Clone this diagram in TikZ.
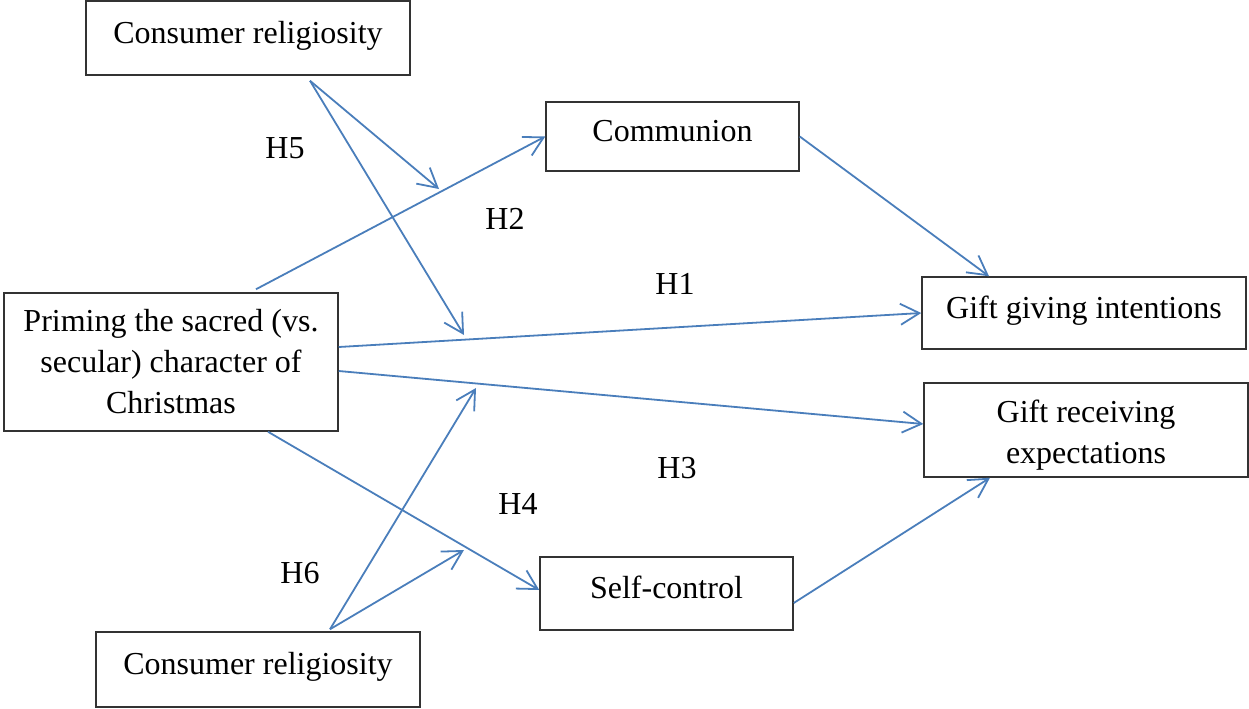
\documentclass[tikz,border=0pt]{standalone}
\usepackage{fontspec}
\setmainfont{Liberation Serif}
\usetikzlibrary{arrows.meta}
\definecolor{arrowblue}{RGB}{74,126,187}
\begin{document}
\begin{tikzpicture}[x=0.5pt,y=-0.5pt,
  box/.style={draw=black!80,line width=0.75pt,rectangle,inner sep=0pt,
    font=\fontsize{16}{20.5}\selectfont,align=center,text height=11pt,text depth=6pt},
  mbox/.style={draw=black!80,line width=0.75pt,rectangle,inner sep=0pt,
    font=\fontsize{16}{20.5}\selectfont,align=center},
  hyp/.style={font=\fontsize{16}{20}\selectfont,inner sep=0pt},
  link/.style={draw=arrowblue,line width=0.9pt,-{Straight Barb[length=9.5pt,width=10.5pt,line width=0.9pt]}}
]
\useasboundingbox (0,0) rectangle (1249,708);
\node[box,minimum width=162pt,minimum height=37pt] (crt) at (248,38) {Consumer religiosity};
\node[box,minimum width=126.5pt,minimum height=34.5pt] (com) at (672.5,136.5) {Communion};
\node[mbox,minimum width=167pt,minimum height=69pt] (pri) at (171,362) {Priming the sacred (vs.\\secular) character of\\Christmas};
\node[box,minimum width=162pt,minimum height=36pt] (ggi) at (1084,313) {Gift giving intentions};
\node[mbox,minimum width=162pt,minimum height=47pt,text height=34pt,text depth=1pt] (gre) at (1086,430) {Gift receiving\\expectations};
\node[box,minimum width=126.5pt,minimum height=36.5pt] (sc) at (666.5,593.5) {Self-control};
\node[box,minimum width=162pt,minimum height=37.5pt] (crb) at (258,669.5) {Consumer religiosity};

\node[hyp] (h5) at (285,148) {H5};
\node[hyp] (h2) at (505,219) {H2};
\node[hyp] (h1) at (675,284) {H1};
\node[hyp] (h3) at (677,468) {H3};
\node[hyp] (h4) at (518,504) {H4};
\node[hyp] (h6) at (300,573) {H6};

\coordinate (m5) at ([xshift=31pt,yshift=-2.5pt]crt.south);
\coordinate (t5a) at (439,189);
\coordinate (t5b) at (464,335);
\coordinate (m6) at ([xshift=36pt,yshift=1pt]crb.north);
\coordinate (t6a) at (476,388);
\coordinate (t6b) at (464,550);

\draw[link] ([xshift=42.5pt,yshift=1.5pt]pri.north) -- (com.west);
\draw[link] (com.east) -- ([xshift=-47.5pt]ggi.north);
\draw[link] ([yshift=7.5pt]pri.east) -- (ggi.west);
\draw[link] ([yshift=-4.5pt]pri.east) -- ([yshift=3pt]gre.west);
\draw[link] ([xshift=48.5pt]pri.south) -- ([yshift=1.75pt]sc.west);
\draw[link] ([yshift=-4.75pt]sc.east) -- ([xshift=-48pt]gre.south);
\draw[link] (m5) -- (t5a);
\draw[link] (m5) -- (t5b);
\draw[link] (m6) -- (t6a);
\draw[link] (m6) -- (t6b);
\end{tikzpicture}
\end{document}
